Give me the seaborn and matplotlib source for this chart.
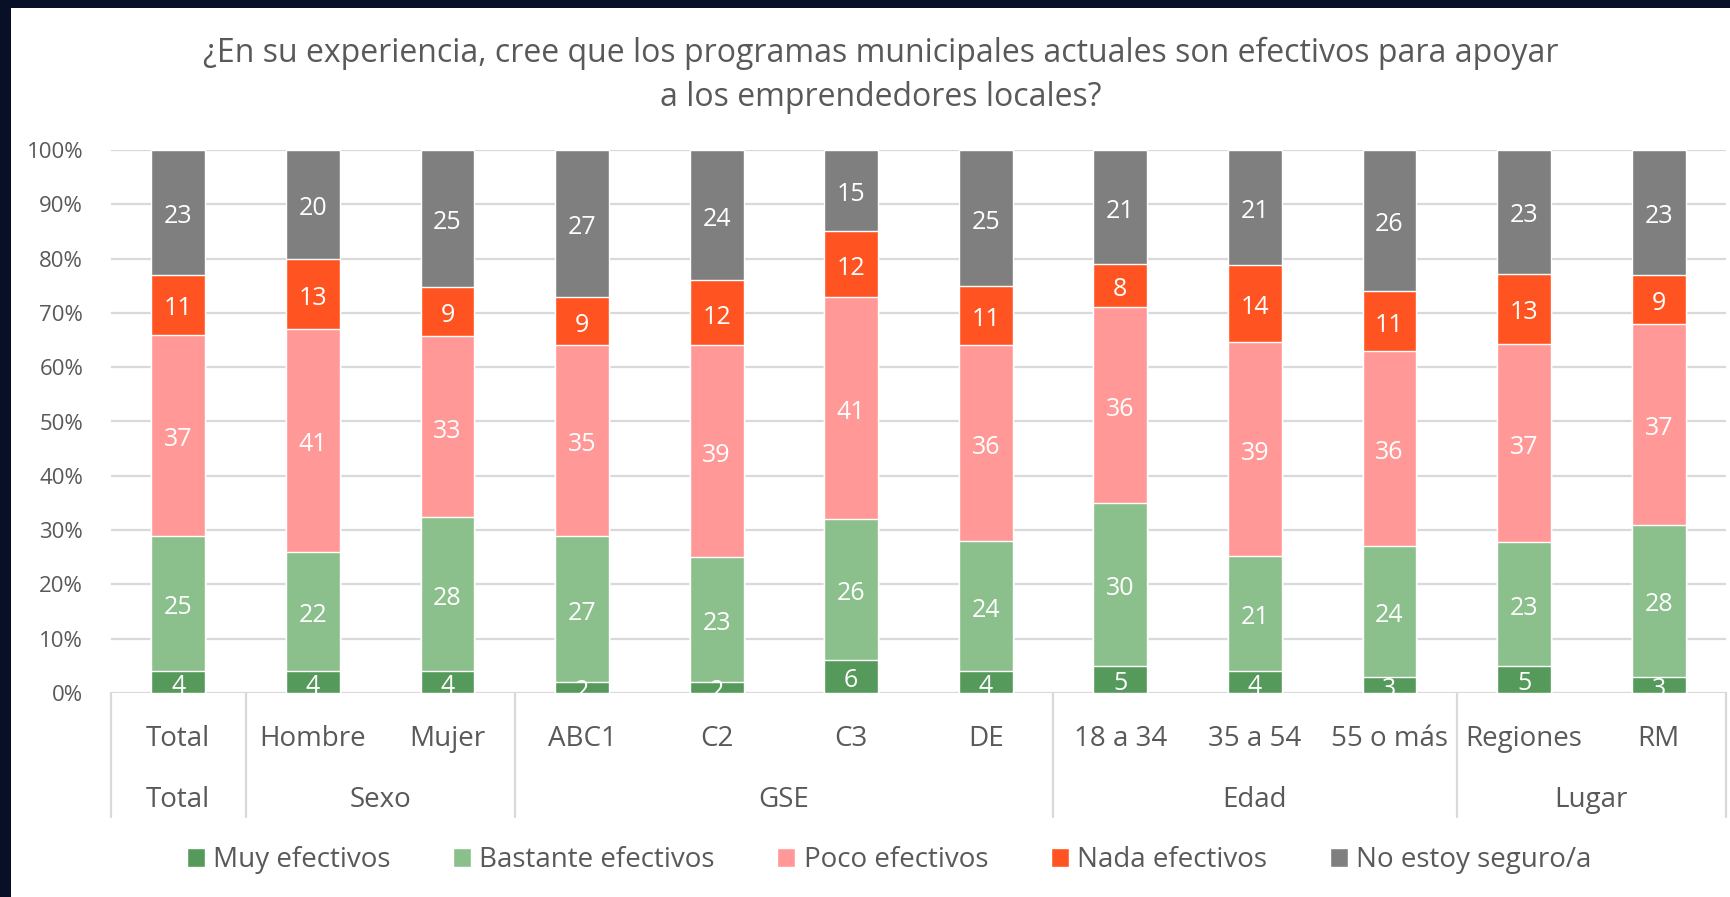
import matplotlib
matplotlib.use("Agg")
import matplotlib.pyplot as plt
from matplotlib.patches import Rectangle
import matplotlib.transforms as mtransforms
import numpy as np
import seaborn as sns

categories = ["Total", "Hombre", "Mujer", "ABC1", "C2", "C3", "DE",
              "18 a 34", "35 a 54", "55 o más", "Regiones", "RM"]
groups = ["Total", "Sexo", "GSE", "Edad", "Lugar"]
group_sizes = [1, 2, 4, 3, 2]
series_names = ["Muy efectivos", "Bastante efectivos", "Poco efectivos",
                "Nada efectivos", "No estoy seguro/a"]
muy = [4, 4, 4, 2, 2, 6, 4, 5, 4, 3, 5, 3]
bastante = [25, 22, 28, 27, 23, 26, 24, 30, 21, 24, 23, 28]
poco = [37, 41, 33, 35, 39, 41, 36, 36, 39, 36, 37, 37]
nada = [11, 13, 9, 9, 12, 12, 11, 8, 14, 11, 13, 9]
no_seguro = [23, 20, 25, 27, 24, 15, 25, 21, 21, 26, 23, 23]
yticks = [0, 10, 20, 30, 40, 50, 60, 70, 80, 90, 100]
title_lines = ["¿En su experiencia, cree que los programas municipales actuales son efectivos para apoyar",
               "a los emprendedores locales?"]

colors = ["#559A5A", "#8BC08C", "#FF9897", "#FF5421", "#7F7F7F"]
text_color = "#595959"
grid_color = "#D9D9D9"

sns.set_theme(style="white")
plt.rcParams["font.family"] = ["Open Sans", "DejaVu Sans"]

W, H = 1731, 897
fig = plt.figure(figsize=(W / 100, H / 100), dpi=100)
fig.patch.set_facecolor("#081028")
fig.patches.append(Rectangle((11 / W, 0), 1, (H - 8) / H, transform=fig.transFigure,
                             facecolor="white", edgecolor="none", zorder=-10))

ax = fig.add_axes([111 / W, 1 - 693 / H, 1615 / W, 543 / H])
ax.set_facecolor("white")

data = np.array([muy, bastante, poco, nada, no_seguro], dtype=float)
totals = data.sum(axis=0)
pct = data / totals * 100
cum = np.cumsum(pct, axis=0)

for i in range(4, -1, -1):
    sns.barplot(x=categories, y=cum[i], color=colors[i], width=0.4, saturation=1,
                order=categories, ax=ax, zorder=3, label=series_names[i])

h, l = ax.get_legend_handles_labels()
if ax.get_legend() is not None:
    ax.get_legend().remove()

lab_trans = ax.transData + mtransforms.ScaledTranslation(0, -3 / 72, fig.dpi_scale_trans)
for j in range(len(categories)):
    for i in range(5):
        bottom = cum[i - 1][j] if i > 0 else 0
        yc = bottom + pct[i][j] / 2
        ax.text(j, yc, f"{int(data[i][j])}", ha="center", va="center",
                color="white", fontsize=18, zorder=5, clip_on=True,
                transform=lab_trans)

ax.set_xlim(-0.5, len(categories) - 0.5)
ax.set_ylim(0, 100)
ax.set_yticks(yticks)
ax.set_yticklabels([f"{t}%" for t in yticks])
ax.tick_params(axis="y", labelsize=16, colors=text_color, pad=20, length=0)
ax.tick_params(axis="x", length=0, labelbottom=False)
ax.set_xlabel("")
ax.set_ylabel("")
for s in ax.spines.values():
    s.set_visible(False)
for t in yticks:
    ax.axhline(t, color=grid_color, lw=1.6, zorder=1)

trans = mtransforms.blended_transform_factory(ax.transData, ax.transAxes)
for j, c in enumerate(categories):
    ax.text(j, -0.085, c, transform=trans, ha="center", va="center",
            fontsize=20, color=text_color)

start = 0
bounds = [-0.5]
for g, n in zip(groups, group_sizes):
    center = start + (n - 1) / 2
    ax.text(center, -0.1975, g, transform=trans, ha="center", va="center",
            fontsize=20, color=text_color)
    start += n
    bounds.append(start - 0.5)
for b in bounds:
    ax.plot([b, b], [0, -0.228], transform=trans, color=grid_color, lw=1.6,
            clip_on=False, zorder=1)

fig.text(881 / W, 1 - 53 / H, title_lines[0], ha="center", va="center",
         fontsize=23, color=text_color)
fig.text(881 / W, 1 - 98 / H, title_lines[1], ha="center", va="center",
         fontsize=23, color=text_color)

order = [l.index(n) for n in series_names]
fig.legend([h[k] for k in order], [l[k] for k in order], loc="center",
           bbox_to_anchor=(889 / W, 1 - 860 / H), ncol=5, frameon=False,
           fontsize=20, labelcolor=text_color, handlelength=0.65, handleheight=0.65,
           handletextpad=0.3, columnspacing=2.25)

fig.savefig("out.png", dpi=100, facecolor=fig.get_facecolor())
